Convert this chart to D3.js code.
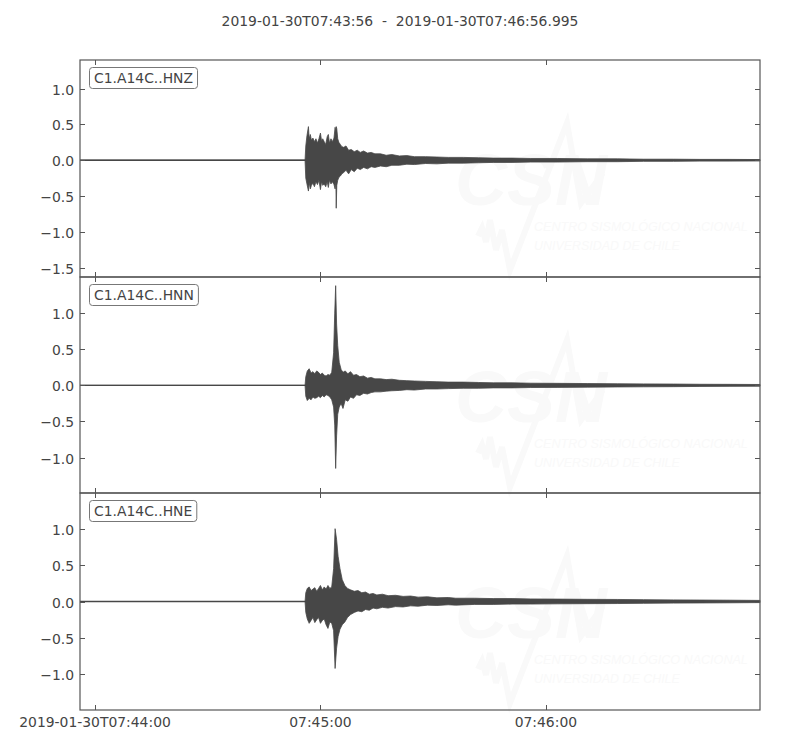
<!DOCTYPE html>
<html>
<head>
<meta charset="utf-8">
<script src="https://cdn.jsdelivr.net/npm/d3@7"></script>
<style>
  body { margin: 0; background: #fff; }
  svg { display: block; font-family: "DejaVu Sans", sans-serif; }
</style>
</head>
<body>
<svg id="chart" width="800" height="750"></svg>
<script>
// ---------- DATA ----------
const title = "2019-01-30T07:43:56  -  2019-01-30T07:46:56.995";
const startTime = "2019-01-30T07:43:56.000Z";
const endTime = "2019-01-30T07:46:56.995Z";
const channels = ["C1.A14C..HNZ", "C1.A14C..HNN", "C1.A14C..HNE"];
const xTickTimes = ["2019-01-30T07:44:00Z", "2019-01-30T07:45:00Z", "2019-01-30T07:46:00Z"];
const xTickLabels = ["2019-01-30T07:44:00", "07:45:00", "07:46:00"];
const yDomains = [[-1.63, 1.40], [-1.49, 1.50], [-1.49, 1.49]];
const yTicks = [[-1.5, -1.0, -0.5, 0.0, 0.5, 1.0], [-1.0, -0.5, 0.0, 0.5, 1.0], [-1.0, -0.5, 0.0, 0.5, 1.0]];
const watermarkLines = ["CENTRO SISMOLÓGICO NACIONAL", "UNIVERSIDAD DE CHILE"];

// envelope of each trace: seconds after start, max and min amplitude
const hnzT =   [0, 59.9, 60.1, 60.4, 60.8, 61.0, 61.3, 61.6, 62.0, 62.4, 62.8, 63.2, 63.6, 64.0, 64.3, 64.6, 65.0, 65.4, 65.8, 66.1, 66.4, 66.8, 67.2, 67.6, 67.9, 68.1, 68.2, 68.35, 68.6, 68.9, 69.3, 69.7, 70.2, 70.8, 71.5, 72.2, 73.0, 73.8, 74.6, 75.5, 76.5, 77.5, 78.5, 80, 81.5, 83, 85, 87, 89, 92, 95, 98, 102, 106, 110, 115, 120, 127, 135, 143, 150, 158, 165, 173, 181];
const hnzMax = [0, 0, 0.20, 0.34, 0.47, 0.30, 0.36, 0.28, 0.31, 0.26, 0.30, 0.24, 0.30, 0.38, 0.27, 0.30, 0.26, 0.22, 0.33, 0.36, 0.24, 0.30, 0.26, 0.31, 0.46, 0.40, 0.47, 0.44, 0.30, 0.25, 0.22, 0.19, 0.18, 0.20, 0.14, 0.15, 0.12, 0.14, 0.11, 0.13, 0.10, 0.11, 0.09, 0.09, 0.07, 0.08, 0.06, 0.065, 0.05, 0.05, 0.045, 0.04, 0.04, 0.035, 0.03, 0.03, 0.025, 0.025, 0.02, 0.02, 0.015, 0.015, 0.012, 0.012, 0.01];
const hnzMin = [0, 0, -0.25, -0.33, -0.43, -0.31, -0.40, -0.35, -0.32, -0.37, -0.30, -0.34, -0.28, -0.41, -0.30, -0.35, -0.33, -0.37, -0.30, -0.38, -0.28, -0.33, -0.30, -0.34, -0.40, -0.30, -0.67, -0.35, -0.28, -0.24, -0.22, -0.19, -0.17, -0.14, -0.19, -0.13, -0.16, -0.11, -0.13, -0.10, -0.12, -0.09, -0.10, -0.08, -0.09, -0.07, -0.07, -0.055, -0.06, -0.045, -0.05, -0.04, -0.04, -0.035, -0.03, -0.03, -0.025, -0.025, -0.02, -0.02, -0.015, -0.015, -0.012, -0.012, -0.01];

const hnnT =   [0, 59.9, 60.1, 60.5, 61.0, 61.5, 62.0, 62.5, 63.0, 63.5, 64.0, 64.5, 65.0, 65.5, 66.0, 66.5, 67.0, 67.5, 67.8, 68.05, 68.3, 68.6, 69.0, 69.5, 70.0, 70.6, 71.3, 72.0, 72.8, 73.6, 74.5, 75.5, 76.5, 77.5, 78.5, 80, 81.5, 83, 85, 87, 89, 92, 95, 98, 102, 106, 110, 115, 120, 127, 135, 143, 150, 158, 165, 173, 181];
const hnnMax = [0, 0, 0.12, 0.20, 0.23, 0.17, 0.19, 0.16, 0.20, 0.18, 0.15, 0.17, 0.14, 0.13, 0.15, 0.14, 0.18, 0.45, 1.00, 1.38, 0.85, 0.55, 0.32, 0.22, 0.18, 0.20, 0.16, 0.19, 0.14, 0.15, 0.12, 0.13, 0.10, 0.11, 0.09, 0.09, 0.08, 0.085, 0.07, 0.065, 0.06, 0.055, 0.05, 0.045, 0.045, 0.04, 0.035, 0.035, 0.03, 0.028, 0.025, 0.022, 0.02, 0.018, 0.015, 0.014, 0.012];
const hnnMin = [0, 0, -0.15, -0.21, -0.18, -0.20, -0.16, -0.18, -0.17, -0.15, -0.17, -0.14, -0.16, -0.13, -0.14, -0.16, -0.20, -0.30, -0.55, -1.15, -0.70, -0.40, -0.30, -0.25, -0.32, -0.20, -0.22, -0.16, -0.18, -0.13, -0.14, -0.11, -0.12, -0.10, -0.09, -0.09, -0.08, -0.075, -0.07, -0.06, -0.065, -0.05, -0.05, -0.045, -0.04, -0.04, -0.035, -0.035, -0.03, -0.028, -0.025, -0.022, -0.02, -0.018, -0.015, -0.014, -0.012];

const hneT =   [0, 59.9, 60.1, 60.5, 61.0, 61.5, 62.0, 62.5, 63.0, 63.5, 64.0, 64.5, 65.0, 65.5, 66.0, 66.5, 67.0, 67.5, 67.9, 68.3, 68.7, 69.2, 69.8, 70.5, 71.2, 72.0, 73, 74, 75, 76, 77, 78, 79, 80.5, 82, 84, 86, 88, 90, 92.5, 95, 98, 100, 105, 110, 115, 120, 127, 135, 143, 150, 158, 165, 173, 181];
const hneMax = [0, 0, 0.12, 0.18, 0.20, 0.15, 0.17, 0.19, 0.14, 0.18, 0.22, 0.16, 0.20, 0.17, 0.22, 0.18, 0.20, 0.45, 1.00, 0.85, 0.62, 0.45, 0.30, 0.22, 0.18, 0.16, 0.14, 0.15, 0.12, 0.13, 0.10, 0.11, 0.09, 0.10, 0.08, 0.085, 0.07, 0.075, 0.06, 0.065, 0.05, 0.055, 0.045, 0.045, 0.04, 0.04, 0.035, 0.033, 0.03, 0.028, 0.025, 0.022, 0.02, 0.018, 0.015];
const hneMin = [0, 0, -0.15, -0.24, -0.30, -0.26, -0.22, -0.29, -0.25, -0.22, -0.30, -0.26, -0.24, -0.32, -0.37, -0.28, -0.30, -0.40, -0.92, -0.64, -0.48, -0.38, -0.32, -0.28, -0.22, -0.18, -0.15, -0.13, -0.14, -0.11, -0.12, -0.09, -0.10, -0.08, -0.09, -0.07, -0.075, -0.06, -0.065, -0.05, -0.055, -0.045, -0.05, -0.04, -0.04, -0.035, -0.035, -0.032, -0.03, -0.028, -0.025, -0.022, -0.02, -0.018, -0.015];

const traceTimes = [hnzT, hnnT, hneT];
const traceMax = [hnzMax, hnnMax, hneMax];
const traceMin = [hnzMin, hnnMin, hneMin];

// ---------- LAYOUT ----------
const svg = d3.select("#chart");
const left = 80, right = 760;
const panelTops = [60, 277, 493];
const panelBottoms = [277, 493, 710];
const axisColor = "#555";
const textColor = "#444";
const waveColor = "#474747";
const wmColor = "#f9f9f9";
const fs = 13.9;
const t0 = new Date(startTime);

const x = d3.scaleUtc().domain([t0, new Date(endTime)]).range([left, right]);
const tx = s => x(new Date(t0.getTime() + s * 1000));

svg.append("text").attr("x", 400).attr("y", 26).attr("text-anchor", "middle")
  .attr("font-size", fs).attr("fill", textColor).style("white-space", "pre").text(title);

channels.forEach((ch, i) => {
  const top = panelTops[i], bot = panelBottoms[i];
  const y = d3.scaleLinear().domain(yDomains[i]).range([bot, top]);
  const g = svg.append("g");

  // watermark (CSN logo, very faint)
  const wm = g.append("g").attr("transform", `translate(0,${top})`);
  wm.append("path")
    .attr("d", "M478,176 L482,168 L486,182 L490,160 L496,190 L502,170 L510,210 L567,63 L581,143 L603,113")
    .attr("fill", "none").attr("stroke", wmColor).attr("stroke-width", 6).attr("stroke-linejoin", "miter");
  wm.append("text").attr("x", 455).attr("y", 145).attr("font-size", 72).attr("font-style", "italic")
    .attr("font-weight", "bold").attr("fill", wmColor).attr("font-family", "Liberation Sans, sans-serif").text("CSN");
  const wmWidths = [214, 146];
  watermarkLines.forEach((s, k) => {
    const t = wm.append("text").attr("x", 534).attr("y", 171 + k * 19).attr("font-size", 18)
      .attr("font-style", "italic").attr("fill", wmColor)
      .attr("font-family", "Liberation Sans Narrow, Liberation Sans, sans-serif").text(s);
    const w = t.node().getComputedTextLength();
    t.attr("font-size", 18 * wmWidths[k] / w);
  });

  // waveform
  const pts = traceTimes[i].map((t, k) => ({ t, hi: traceMax[i][k], lo: traceMin[i][k] }));
  g.append("line").attr("x1", left).attr("x2", right).attr("y1", y(0)).attr("y2", y(0))
    .attr("stroke", waveColor).attr("stroke-width", 1.4);
  g.append("path").datum(pts)
    .attr("d", d3.area().x(d => tx(d.t)).y0(d => y(d.lo)).y1(d => y(d.hi)))
    .attr("fill", waveColor).attr("stroke", waveColor).attr("stroke-width", 0.8);

  // frame
  g.append("rect").attr("x", left).attr("y", top).attr("width", right - left).attr("height", bot - top)
    .attr("fill", "none").attr("stroke", axisColor).attr("stroke-width", 1.2);

  // y ticks (inward, both sides) and labels
  yTicks[i].forEach(v => {
    const yy = Math.round(y(v)) + 0.5;
    g.append("line").attr("x1", left).attr("x2", left + 5).attr("y1", yy).attr("y2", yy).attr("stroke", axisColor);
    g.append("line").attr("x1", right - 5).attr("x2", right).attr("y1", yy).attr("y2", yy).attr("stroke", axisColor);
    g.append("text").attr("x", 74).attr("y", yy + 5).attr("text-anchor", "end")
      .attr("font-size", fs).attr("fill", textColor)
      .text(d3.format(".1f")(v).replace("-", "\u2212"));
  });

  // x ticks (inward, top & bottom)
  xTickTimes.forEach(s => {
    const xx = Math.round(x(new Date(s))) + 0.5;
    g.append("line").attr("x1", xx).attr("x2", xx).attr("y1", top).attr("y2", top + 5).attr("stroke", axisColor);
    g.append("line").attr("x1", xx).attr("x2", xx).attr("y1", bot - 5).attr("y2", bot).attr("stroke", axisColor);
  });

  // channel label box
  const lbl = g.append("g");
  const txt = lbl.append("text").attr("x", 94).attr("y", top + 23).attr("font-size", fs)
    .attr("fill", textColor).text(ch);
  const bb = txt.node().getBBox();
  lbl.insert("rect", "text").attr("x", bb.x - 4.5).attr("y", top + 7.5).attr("width", bb.width + 9)
    .attr("height", 21).attr("rx", 3).attr("fill", "#fff").attr("stroke", "#777").attr("stroke-width", 1);
});

// bottom x-axis labels
xTickTimes.forEach((s, k) => {
  svg.append("text").attr("x", x(new Date(s))).attr("y", 727).attr("text-anchor", "middle")
    .attr("font-size", fs).attr("fill", textColor).text(xTickLabels[k]);
});
</script>
</body>
</html>
